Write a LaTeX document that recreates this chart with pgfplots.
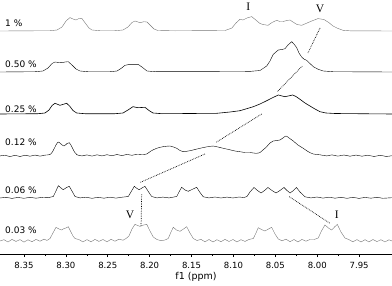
\documentclass[border=0pt]{standalone}
\usepackage{fontspec}
\setmainfont{DejaVu Sans}
\newfontfamily\serifI{Liberation Serif}
\usepackage{pgfplots}
\pgfplotsset{compat=1.18}
\definecolor{spec}{RGB}{118,118,118}
\begin{document}
\begin{tikzpicture}
\useasboundingbox (0,-31pt) rectangle (392pt,254pt);
\begin{axis}[
  at={(0,0)}, anchor=south west,
  width=392pt, height=254pt, scale only axis,
  xmin=7.9108, xmax=8.3786, ymin=0, ymax=254,
  x dir=reverse, clip=false,
  axis x line*=bottom, axis y line=none, ytick=\empty,
  x axis line style={black, line width=0.6pt},
  xtick={7.95,8.00,8.05,8.10,8.15,8.20,8.25,8.30,8.35},
  minor x tick num=1,
  tick align=outside,
  major tick length=3pt, minor tick length=2pt,
  tick style={black, line width=0.6pt},
  xticklabel style={font=\fontsize{8.5}{10}\selectfont, yshift=-1.5pt, /pgf/number format/.cd, fixed, fixed zerofill, precision=2},
  /pgf/number format/assume math mode=true,
  xlabel={f1 (ppm)},
  xlabel style={font=\fontsize{9.5}{11}\selectfont, inner sep=0pt, at={(axis description cs:0.5,0)}, anchor=center, yshift=-23pt},
  cycle list={{spec, no markers, line width=0.6pt, smooth, tension=0.5}},
]
% 1 %
\addplot coordinates {
(8.3786,223) (8.3189,223.3) (8.3106,224) (8.3046,227) (8.2998,233) (8.2951,236.4) (8.2915,235) (8.2879,234) (8.2843,235.5) (8.2807,235.3) (8.2760,230) (8.2724,226) (8.2688,224) (8.2593,223.3)
(8.2414,223.3) (8.2318,224) (8.2259,227) (8.2211,231.5) (8.2175,233) (8.2139,232) (8.2115,231.3) (8.2068,232.3) (8.2032,232) (8.1984,228) (8.1948,225) (8.1901,223.5) (8.1698,223.2)
(8.1101,223.5) (8.1018,226) (8.0970,231) (8.0922,234.7) (8.0886,234) (8.0839,236) (8.0782,237.4) (8.0755,235.5) (8.0719,233) (8.0683,230.5) (8.0648,229.5) (8.0588,228.7) (8.0540,231.5) (8.0484,233.7) (8.0445,232.5) (8.0409,232.5) (8.0361,233.5) (8.0325,234) (8.0290,232) (8.0242,229.5) (8.0186,228.7) (8.0135,230.5) (8.0066,233) (7.9991,235.4) (7.9920,234.5) (7.9860,231.3) (7.9812,228) (7.9765,226) (7.9693,223.7) (7.9609,223.2) (7.9108,223)
};
% 0.50 %
\addplot coordinates {
(8.3786,182) (8.3368,182.3) (8.3273,183) (8.3213,186) (8.3165,190.5) (8.3130,192) (8.3094,191.6) (8.3050,191.3) (8.3010,192) (8.2971,192.3) (8.2927,189) (8.2879,185) (8.2831,183) (8.2736,182.3)
(8.2473,182.3) (8.2390,183) (8.2342,185.5) (8.2294,188.7) (8.2235,189.7) (8.2187,189.6) (8.2139,189.7) (8.2092,187) (8.2032,183) (8.1936,182.3)
(8.0922,182.5) (8.0803,182.6) (8.0683,183.5) (8.0603,188) (8.0564,193) (8.0525,199.7) (8.0465,204) (8.0421,204.5) (8.0385,205.3) (8.0349,209) (8.0305,212.3) (8.0278,210) (8.0245,206.3) (8.0218,201) (8.0186,197) (8.0158,194.8) (8.0126,193.7) (8.0087,190.5) (8.0047,187.3) (7.9991,184.8) (7.9928,183) (7.9812,182.3) (7.9108,182)
};
% 0.25 %
\addplot coordinates {
(8.3786,140) (8.3333,140.3) (8.3249,141) (8.3201,144) (8.3165,148.5) (8.3130,150.7) (8.3094,149.5) (8.3070,148.7) (8.3034,149.6) (8.2990,150.7) (8.2951,147.5) (8.2915,143.5) (8.2871,141) (8.2772,140.3)
(8.2414,140.3) (8.2318,141) (8.2259,144) (8.2199,147.3) (8.2139,146.3) (8.2056,146.7) (8.2008,143.5) (8.1960,141) (8.1853,140.3)
(8.1200,140.7) (8.1041,142) (8.0922,143.3) (8.0763,147.3) (8.0683,150) (8.0603,153.3) (8.0528,156.5) (8.0465,159) (8.0385,157.3) (8.0293,159) (8.0254,157.5) (8.0206,154.7) (8.0146,151) (8.0087,148) (8.0027,145) (7.9967,142.3) (7.9896,141) (7.9788,140.5) (7.9108,140)
};
% 0.12 %
\addplot coordinates {
(8.3786,98) (8.3726,98.8) (8.3667,97.4) (8.3607,98.7) (8.3547,97.5) (8.3488,98.8) (8.3428,97.8) (8.3368,98.9) (8.3309,97.9) (8.3249,98.9) (8.3189,99.5)
(8.3154,103) (8.3118,109) (8.3090,112) (8.3058,110) (8.3022,108) (8.2986,110.5) (8.2959,111.3) (8.2927,107) (8.2897,102) (8.2867,99.2)
(8.2807,98.1) (8.2748,99.1) (8.2688,97.9) (8.2628,99.2) (8.2569,98.1) (8.2509,99.3) (8.2450,98.2) (8.2390,99.5) (8.2330,98.4) (8.2271,99.6) (8.2211,98.7) (8.2151,99.8) (8.2092,99.5)
(8.2035,100) (8.1984,103) (8.1916,105.7) (8.1841,107.3) (8.1757,108) (8.1716,107) (8.1677,105.7) (8.1638,103.5) (8.1599,102.3) (8.1558,102.7) (8.1519,103.3) (8.1459,104.5) (8.1399,105.7) (8.1328,107) (8.1241,108) (8.1185,107) (8.1121,105.7) (8.1041,104.2) (8.0982,103) (8.0922,102.3) (8.0862,101.5) (8.0803,101.5) (8.0731,100.7)
(8.0683,101.5) (8.0648,104) (8.0603,107.3) (8.0564,111) (8.0525,113) (8.0481,113.5) (8.0445,114) (8.0409,116) (8.0373,118) (8.0337,116) (8.0286,113) (8.0230,109) (8.0167,105.7) (8.0111,102.5) (8.0047,100) (7.9967,99.2)
(7.9887,98.1) (7.9824,99.1) (7.9753,97.9) (7.9681,99) (7.9609,97.8) (7.9538,98.9) (7.9466,97.8) (7.9395,98.8) (7.9323,97.5) (7.9251,98.7) (7.9180,97.6) (7.9108,98.3)
};
% 0.06 %
\addplot coordinates {
(8.3786,56) (8.3714,56.7) (8.3643,55.6) (8.3571,56.6) (8.3500,55.7) (8.3428,56.7) (8.3356,55.8) (8.3285,56.6) (8.3213,56.3)
(8.3150,57.5) (8.3118,63) (8.3090,68.3) (8.3058,66) (8.3031,64.3) (8.2992,66.5) (8.2959,67.7) (8.2927,63) (8.2891,57.5)
(8.2831,56.1) (8.2760,56.8) (8.2688,55.7) (8.2617,56.7) (8.2545,55.8) (8.2473,56.8) (8.2402,55.9) (8.2330,56.8)
(8.2255,57.5) (8.2223,62) (8.2183,67.7) (8.2151,65.5) (8.2124,64.3) (8.2092,66) (8.2056,67.7) (8.2020,63) (8.1976,57.5)
(8.1913,56.1) (8.1841,56.9) (8.1769,56.1)
(8.1677,57.5) (8.1650,62) (8.1618,66.7) (8.1578,64) (8.1539,62.7) (8.1495,64.5) (8.1439,66.7) (8.1399,61.5) (8.1360,57.2)
(8.1292,56.1) (8.1220,57) (8.1149,56) (8.1077,56.9) (8.1006,56) (8.0934,57) (8.0874,56.5)
(8.0839,57.5) (8.0803,62) (8.0755,66.5) (8.0713,63.5) (8.0671,61) (8.0629,63.5) (8.0588,66.5) (8.0540,63.5) (8.0492,61) (8.0445,63.5) (8.0397,66.5) (8.0361,63.5) (8.0325,61) (8.0284,63.5) (8.0248,66.5) (8.0206,62) (8.0146,57.2)
(8.0075,56.1) (8.0003,57) (7.9932,55.9) (7.9860,56.8) (7.9788,55.8) (7.9717,56.7) (7.9645,55.7) (7.9574,56.7) (7.9502,55.6) (7.9430,56.6) (7.9359,55.8) (7.9287,56.7) (7.9216,55.7) (7.9108,56.3)
};
% 0.03 %
\addplot coordinates {
(8.3786,13) (8.3738,14.3) (8.3691,12) (8.3643,14.6) (8.3595,12.6) (8.3547,14.4) (8.3500,11.9) (8.3452,14.2) (8.3404,12.3) (8.3356,14.6) (8.3309,12.8) (8.3261,14.8) (8.3225,13.6)
(8.3189,15.5) (8.3154,21) (8.3118,26.7) (8.3082,25) (8.3050,24) (8.3022,25.5) (8.2998,26) (8.2971,27.3) (8.2939,22) (8.2915,18) (8.2891,15.5)
(8.2843,14.4) (8.2796,12.1) (8.2748,14.4) (8.2700,12.2) (8.2652,14.6) (8.2605,12.6) (8.2557,14.5) (8.2509,12.2) (8.2461,14.7) (8.2414,12.8) (8.2366,14.8) (8.2318,13.8)
(8.2282,15.5) (8.2247,18) (8.2211,25) (8.2175,29.7) (8.2145,28.5) (8.2115,27.7) (8.2080,28.8) (8.2035,29.7) (8.1996,23) (8.1957,17) (8.1913,14.5)
(8.1865,13.3) (8.1817,14)
(8.1778,15.5) (8.1745,22) (8.1718,26.7) (8.1680,24) (8.1638,22.7) (8.1596,25) (8.1558,27.3) (8.1519,21) (8.1479,15.5)
(8.1435,13.5) (8.1387,14.6) (8.1340,12.2) (8.1292,14.5) (8.1244,12) (8.1197,14.3) (8.1149,12.3) (8.1101,14.6) (8.1053,12.5) (8.1006,14.5) (8.0958,12.1) (8.0910,14.3) (8.0862,12.6) (8.0815,14.5)
(8.0763,15.5) (8.0731,21) (8.0704,26.3) (8.0666,24.5) (8.0624,23) (8.0582,25) (8.0544,26.7) (8.0504,20) (8.0465,15)
(8.0421,13.2) (8.0373,14.8) (8.0325,12.3) (8.0278,14.5) (8.0230,12.1) (8.0182,14.6) (8.0135,12.8) (8.0087,14.5) (8.0039,14.5)
(7.9988,16) (7.9950,23) (7.9908,29) (7.9866,26) (7.9828,24) (7.9794,27) (7.9761,29.7) (7.9717,22) (7.9669,16)
(7.9621,14.3) (7.9574,12.2) (7.9526,14.4) (7.9478,12) (7.9430,14.3) (7.9383,12.1) (7.9335,14.5) (7.9287,12.4) (7.9240,14.3) (7.9192,12.1) (7.9144,14.2) (7.9108,13)
};
% correlation lines
\addplot[black, densely dotted, line width=0.7pt, sharp plot] coordinates {(7.9967,226) (8.0111,201)};
\addplot[black, densely dotted, line width=0.7pt, sharp plot] coordinates {(8.0179,188) (8.0477,162.3)};
\addplot[black, densely dotted, line width=0.7pt, sharp plot] coordinates {(8.0663,140) (8.1214,111.3)};
\addplot[black, densely dotted, line width=0.7pt, sharp plot] coordinates {(8.1340,100) (8.2115,71.5)};
\addplot[black, densely dotted, line width=0.7pt, sharp plot] coordinates {(8.2095,59.7) (8.2103,27.3)};
\addplot[black, densely dotted, line width=0.7pt, sharp plot] coordinates {(8.0334,57.3) (7.9848,30.7)};
% labels
\begin{scope}[every node/.style={font=\fontsize{9}{10}\selectfont, anchor=west, inner sep=0pt}]
\node at (axis cs:8.3726,230.7) {1 \%};
\node at (axis cs:8.3726,189.7) {0.50 \%};
\node at (axis cs:8.3726,145) {0.25 \%};
\node at (axis cs:8.3726,111.3) {0.12 \%};
\node at (axis cs:8.3726,64) {0.06 \%};
\node at (axis cs:8.3726,24) {0.03 \%};
\end{scope}
\begin{scope}[every node/.style={font=\serifI\fontsize{11.5}{12}\selectfont, inner sep=0pt}]
\node at (axis cs:8.0823,247) {I};
\node at (axis cs:7.9967,245.5) {V};
\node at (axis cs:8.2235,39) {V};
\node at (axis cs:7.9768,39.7) {I};
\end{scope}
\end{axis}
\end{tikzpicture}
\end{document}
